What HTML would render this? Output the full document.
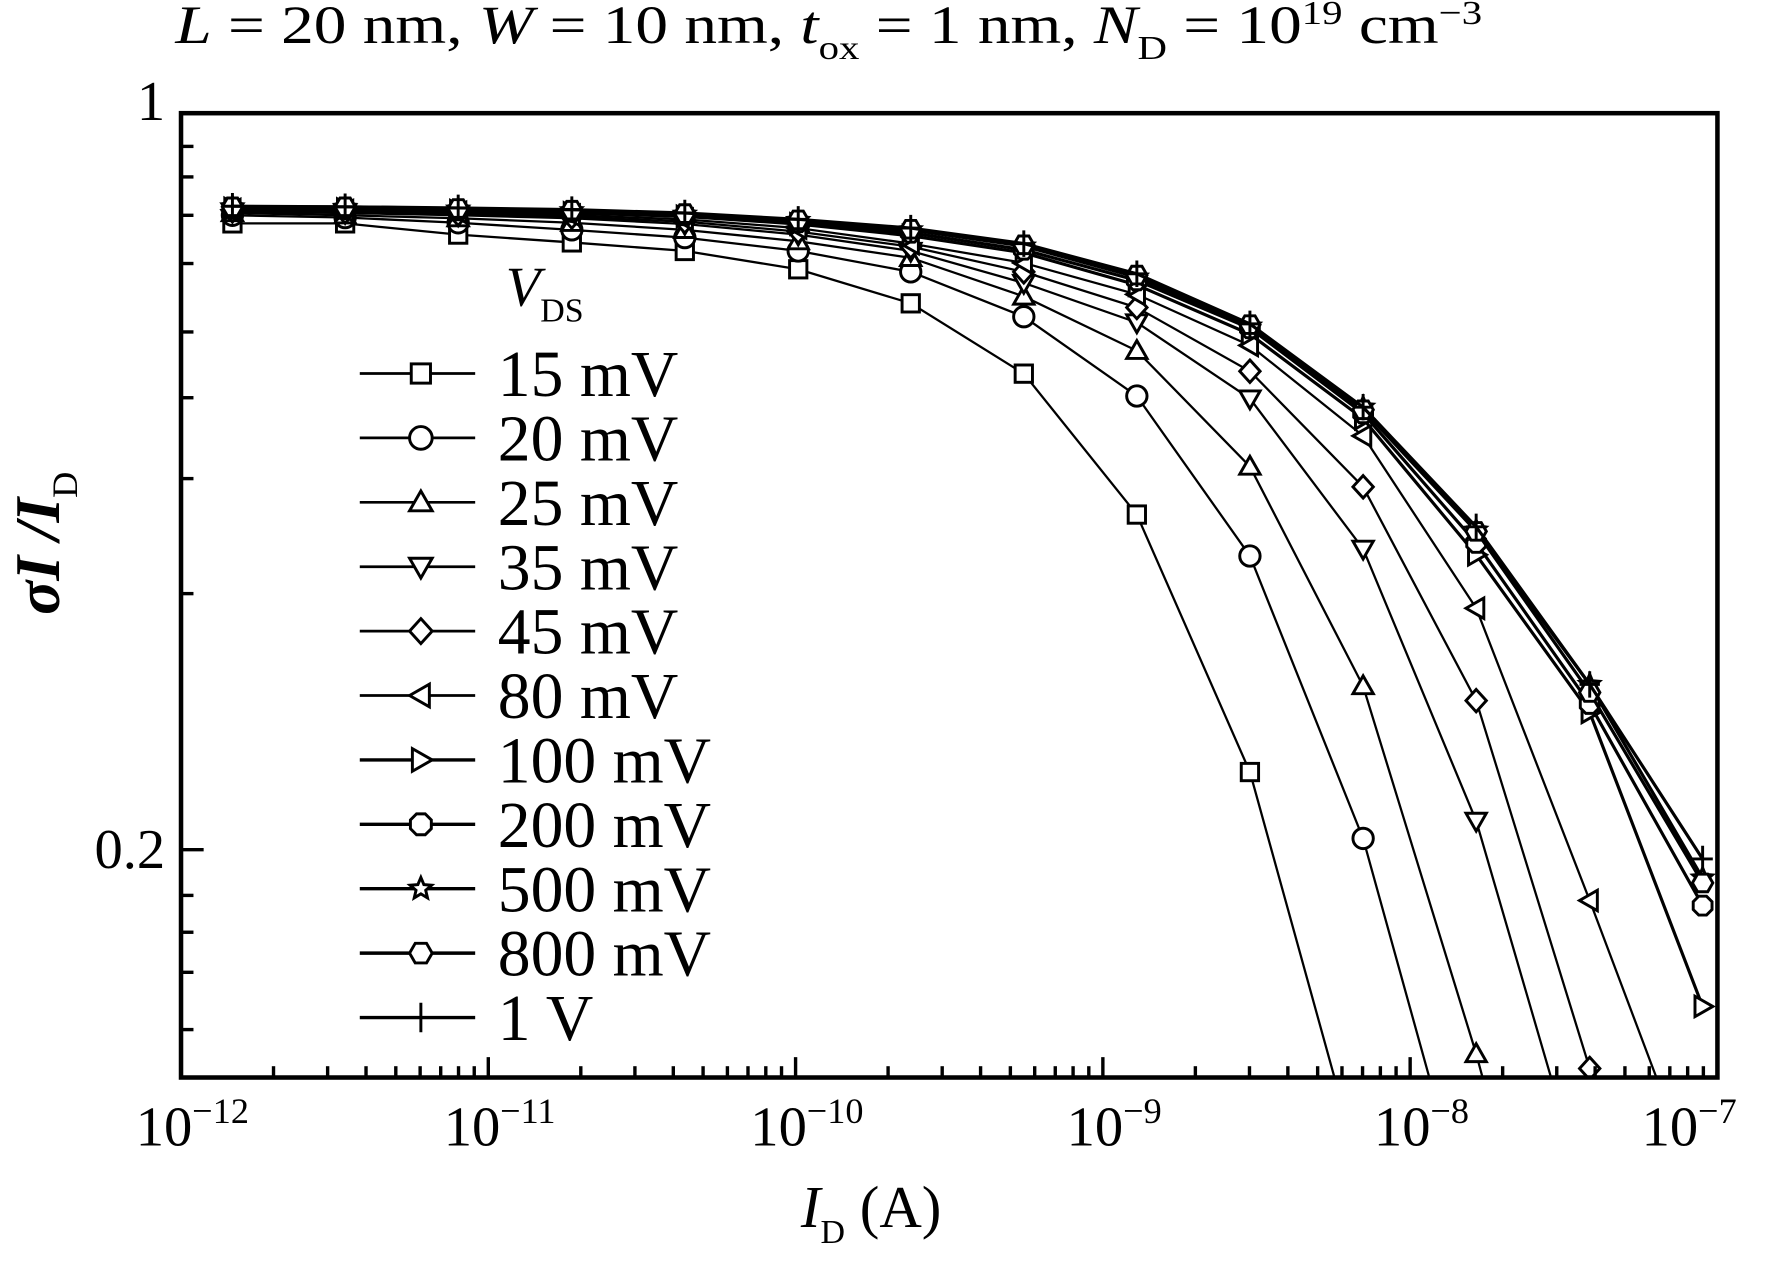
<!DOCTYPE html>
<html><head><meta charset="utf-8"><style>
html,body{margin:0;padding:0;background:#fff;overflow:hidden;}
svg{display:block;}
text{font-family:"Liberation Serif",serif;fill:#000;}
</style></head><body>
<svg id="chart" width="1774" height="1262" viewBox="0 0 1568 1115" preserveAspectRatio="none" xmlns="http://www.w3.org/2000/svg">
<defs><clipPath id="plotclip"><rect x="160" y="100" width="1358" height="852"/></clipPath></defs>
<text x="155" y="38" font-size="48" textLength="1155" lengthAdjust="spacingAndGlyphs"><tspan font-style="italic">L</tspan> = 20 nm, <tspan font-style="italic">W</tspan> = 10 nm, <tspan font-style="italic">t</tspan><tspan font-size="30" dy="14">ox</tspan><tspan dy="-14"> = 1 nm, </tspan><tspan font-style="italic">N</tspan><tspan font-size="30" dy="14">D</tspan><tspan dy="-14"> = 10</tspan><tspan font-size="30" dy="-17">19</tspan><tspan dy="17"> cm</tspan><tspan font-size="30" dy="-17">−3</tspan></text>
<g id="series" clip-path="url(#plotclip)"></g>
<g id="axes"></g>
<rect x="160" y="100" width="1358" height="852" fill="none" stroke="#000" stroke-width="4"/>
<text transform="translate(52,480) rotate(-90)" font-size="56" text-anchor="middle"><tspan font-weight="bold" font-style="italic">σI</tspan><tspan font-weight="bold" font-style="italic"> /I</tspan><tspan font-size="32" dy="16">D</tspan></text>
<text x="770" y="1084" font-size="52" text-anchor="middle"><tspan font-style="italic">I</tspan><tspan font-size="30" dy="14">D</tspan><tspan dy="-14"> (A)</tspan></text>
<text x="447" y="270" font-size="50" font-style="italic">V<tspan font-style="normal" font-size="30" dy="14">DS</tspan></text>
<g id="legend"></g>
</svg>
<script>
const currents = [1.47e-12,3.42e-12,7.98e-12,1.87e-11,4.36e-11,1.02e-10,2.37e-10,5.53e-10,1.29e-9,3.01e-9,7.03e-9,1.64e-8,3.84e-8,8.95e-8];
const seriesLabels = ["15 mV","20 mV","25 mV","35 mV","45 mV","80 mV","100 mV","200 mV","500 mV","800 mV","1 V"];
const markers = ["square","circle","tri-up","tri-down","diamond","tri-left","tri-right","octagon","star","hexagon","plus"];
const v15 = [0.786,0.786,0.767,0.754,0.740,0.711,0.660,0.566,0.416,0.237,0.097];
const v20 = [0.800,0.796,0.787,0.775,0.762,0.740,0.707,0.641,0.539,0.380,0.205,0.084];
const v25 = [0.804,0.800,0.795,0.787,0.775,0.756,0.729,0.670,0.595,0.462,0.286,0.128,0.051];
const v35 = [0.806,0.804,0.800,0.795,0.785,0.767,0.740,0.690,0.633,0.536,0.386,0.213,0.091];
const v45 = [0.808,0.806,0.802,0.797,0.789,0.772,0.747,0.707,0.654,0.569,0.442,0.277,0.124,0.051];
const v80 = [0.810,0.808,0.805,0.800,0.793,0.778,0.752,0.721,0.673,0.602,0.494,0.339,0.179,0.093];
const v100 = [0.812,0.811,0.808,0.804,0.798,0.785,0.765,0.737,0.687,0.617,0.513,0.381,0.270,0.142];
const v200 = [0.813,0.812,0.809,0.806,0.800,0.788,0.770,0.742,0.694,0.625,0.519,0.391,0.275,0.177];
const v500 = [0.815,0.814,0.811,0.808,0.802,0.791,0.775,0.748,0.699,0.628,0.526,0.402,0.287,0.188];
const v800 = [0.815,0.815,0.812,0.809,0.803,0.792,0.776,0.750,0.702,0.630,0.523,0.401,0.282,0.186];
const v1V = [0.816,0.815,0.813,0.810,0.804,0.793,0.778,0.752,0.704,0.631,0.526,0.405,0.287,0.196];
const allSeries = [v15,v20,v25,v35,v45,v80,v100,v200,v500,v800,v1V];
const xTickExps = [-12,-11,-10,-9,-8,-7];
const yTickLabels = ["1","0.2"];
const yTickValues = [1,0.2];
const yMinorValues = [0.93,0.87,0.8,0.72,0.62,0.537,0.45,0.35,0.181,0.167,0.153,0.135];

const X0=160,X1=1518,Y0=100,Y1=952;
function xs(v){return X0+(Math.log10(v)+12)/5*(X1-X0);}
function ys(v){return Y0-Math.log10(v)*931;}
const NS="http://www.w3.org/2000/svg";
function mk(t,a){const e=document.createElementNS(NS,t);for(const k in a)e.setAttribute(k,a[k]);return e;}
function marker(type,x,y,r){
  let e;
  const pts=(arr)=>arr.map(p=>(x+p[0]*r)+","+(y+p[1]*r)).join(" ");
  if(type==="square")e=mk("rect",{x:x-r*0.85,y:y-r*0.85,width:r*1.7,height:r*1.7});
  else if(type==="circle")e=mk("circle",{cx:x,cy:y,r:r});
  else if(type==="tri-up")e=mk("polygon",{points:pts([[0,-1],[1,0.75],[-1,0.75]])});
  else if(type==="tri-down")e=mk("polygon",{points:pts([[0,1],[1,-0.75],[-1,-0.75]])});
  else if(type==="tri-left")e=mk("polygon",{points:pts([[-1,0],[0.75,-1],[0.75,1]])});
  else if(type==="tri-right")e=mk("polygon",{points:pts([[1,0],[-0.75,-1],[-0.75,1]])});
  else if(type==="diamond")e=mk("polygon",{points:pts([[0,-1.1],[1,0],[0,1.1],[-1,0]])});
  else if(type==="octagon"){const a=[];for(let i=0;i<8;i++){const t=Math.PI/8+i*Math.PI/4;a.push([Math.cos(t),Math.sin(t)]);}e=mk("polygon",{points:pts(a)});}
  else if(type==="hexagon"){const a=[];for(let i=0;i<6;i++){const t=i*Math.PI/3;a.push([Math.cos(t),Math.sin(t)]);}e=mk("polygon",{points:pts(a)});}
  else if(type==="star"){const a=[];for(let i=0;i<10;i++){const t=-Math.PI/2+i*Math.PI/5;const rr=i%2?0.45:1;a.push([rr*Math.cos(t),rr*Math.sin(t)]);}e=mk("polygon",{points:pts(a)});}
  else {e=mk("path",{d:`M${x-r} ${y}H${x+r}M${x} ${y-r*1.3}V${y+r*1.3}`});}
  e.setAttribute("fill","#fff");e.setAttribute("stroke","#000");e.setAttribute("stroke-width","2.6");
  return e;
}
const sg=document.getElementById("series");
allSeries.forEach((vals,si)=>{
  const g=mk("g",{});
  
  
  const d=vals.map((v,i)=>(i?"L":"M")+xs(currents[i]).toFixed(1)+" "+ys(v).toFixed(1)).join("");
  const line=mk("path",{d:d,fill:"none",stroke:"#000","stroke-width":si>=6?2.8:2});
  
  
  g.appendChild(line);
  vals.forEach((v,i)=>{
    const m=marker(markers[si],xs(currents[i]),ys(v),9);
    
    
    g.appendChild(m);
  });
  sg.appendChild(g);
});
const ax=document.getElementById("axes");
xTickExps.forEach((e,i)=>{
  const x=xs(Math.pow(10,e));
  const t=mk("line",{x1:x,x2:x,y1:Y1,y2:Y1-18,stroke:"#000","stroke-width":3});
  
  
  ax.appendChild(t);
  const lb=mk("text",{x:x+(e===-7?-25:10),y:1012,"font-size":50,"text-anchor":"middle"});
  
  
  lb.innerHTML='10<tspan font-size="32" dy="-20">−'+(-e)+'</tspan>';
  ax.appendChild(lb);
  if(i<xTickExps.length-1){for(let k=2;k<10;k++){const xm=xs(k*Math.pow(10,e));
    const mt=mk("line",{x1:xm,x2:xm,y1:Y1,y2:Y1-10,stroke:"#000","stroke-width":3});
    
    
    ax.appendChild(mt);}}
});
yTickValues.forEach((v,i)=>{
  const y=ys(v);
  const t=mk("line",{x1:X0,x2:X0+20,y1:y,y2:y,stroke:"#000","stroke-width":3});
  
  
  ax.appendChild(t);
  const lb=mk("text",{x:146,y:y+(i===0?6:16),"font-size":50,"text-anchor":"end"});
  
  
  lb.textContent=yTickLabels[i];
  ax.appendChild(lb);
});
yMinorValues.forEach(v=>{
  const y=ys(v);
  const t=mk("line",{x1:X0,x2:X0+11,y1:y,y2:y,stroke:"#000","stroke-width":3});
  
  
  ax.appendChild(t);
});
const lg=document.getElementById("legend");
seriesLabels.forEach((s,i)=>{
  const y=330+i*56.9;
  const g=mk("g",{});
  
  
  g.appendChild(mk("line",{x1:318,x2:420,y1:y,y2:y,stroke:"#000","stroke-width":i>=6?3:2.4}));
  g.appendChild(marker(markers[i],372,y,10));
  const t=mk("text",{x:440,y:y+20,"font-size":58});
  t.textContent=s;
  g.appendChild(t);
  lg.appendChild(g);
});
</script>
</body></html>
